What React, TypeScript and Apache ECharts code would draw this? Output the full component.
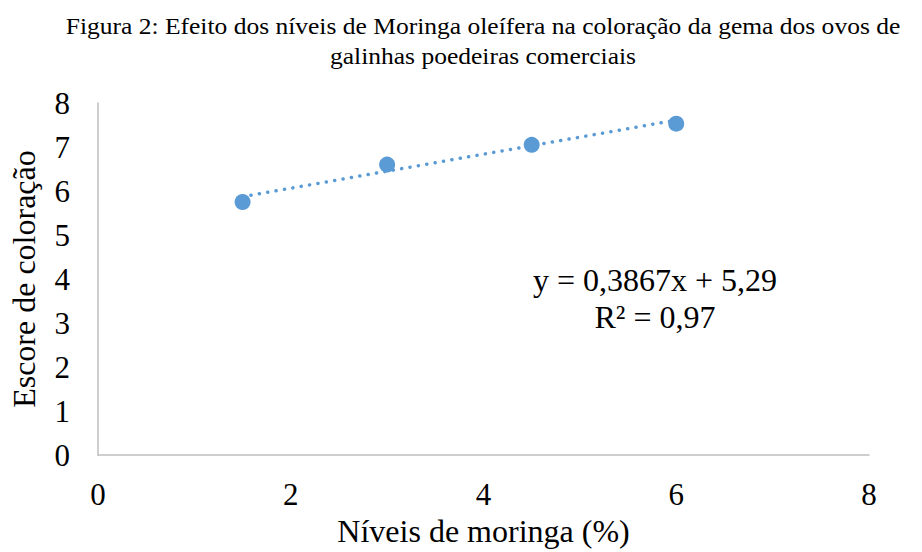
import React, { useEffect, useRef } from "react";
import * as echarts from "echarts";

const titleLines = [
  "Figura 2: Efeito dos níveis de Moringa oleífera na coloração da gema dos ovos de",
  "galinhas poedeiras comerciais",
];
const xAxisName = "Níveis de moringa (%)";
const yAxisName = "Escore de coloração";
const xLevels = [1.5, 3, 4.5, 6];
const scores = [5.75, 6.6, 7.05, 7.53];
const trendCoef = [0.3867, 5.29]; // slope, intercept
const equationLines = ["y = 0,3867x + 5,29", "R² = 0,97"];

const FONT = "Liberation Serif";
const BLUE = "#5b9bd5";

export default function App() {
  const ref = useRef<HTMLDivElement>(null);
  useEffect(() => {
    if (!ref.current) return;
    const chart = echarts.init(ref.current, null, { renderer: "svg" });
    const tx = [xLevels[0], xLevels[xLevels.length - 1]];
    const trend = tx.map((x) => [x, trendCoef[0] * x + trendCoef[1]]);
    chart.setOption({
      animation: false,
      backgroundColor: "#ffffff",
      textStyle: { fontFamily: FONT },
      grid: { left: 93, right: 53, top: 103, bottom: 79, containLabel: false },
      xAxis: {
        type: "value",
        min: 0,
        max: 8,
        interval: 2,
        name: xAxisName,
        nameLocation: "middle",
        nameGap: 47,
        nameTextStyle: { fontFamily: FONT, fontSize: 32, color: "#000" },
        axisLine: { show: true, lineStyle: { color: "#bfbfbf", width: 1.5 } },
        axisTick: { show: false },
        splitLine: { show: false },
        axisLabel: { fontFamily: FONT, fontSize: 31, color: "#000", margin: 24 },
      },
      yAxis: {
        type: "value",
        min: 0,
        max: 8,
        interval: 1,
        name: yAxisName,
        nameLocation: "middle",
        nameGap: 58,
        nameTextStyle: { fontFamily: FONT, fontSize: 32, color: "#000" },
        axisLine: { show: true, lineStyle: { color: "#bfbfbf", width: 1.5 } },
        axisTick: { show: false },
        splitLine: { show: false },
        axisLabel: { fontFamily: FONT, fontSize: 31, color: "#000", margin: 28 },
      },
      series: [
        {
          type: "line",
          data: trend,
          symbol: "none",
          lineStyle: { color: BLUE, width: 3.5, type: [0.1, 8.4], cap: "round" },
          z: 2,
        },
        {
          type: "scatter",
          data: xLevels.map((x, i) => [x, scores[i]]),
          symbolSize: 16,
          itemStyle: { color: BLUE, opacity: 1 },
          z: 3,
        },
      ],
      graphic: [
        {
          type: "text",
          x: 483,
          y: 11,
          scaleX: 1.11,
          style: {
            text: titleLines.join("\n"),
            fontFamily: FONT,
            fontSize: 23,
            lineHeight: 30,
            fill: "#000",
            align: "center",
            verticalAlign: "top",
          },
        },
        {
          type: "text",
          x: 655,
          y: 261,
          style: {
            text: equationLines.join("\n"),
            fontFamily: FONT,
            fontSize: 32,
            lineHeight: 37.6,
            fill: "#000",
            align: "center",
            verticalAlign: "top",
          },
        },
      ],
    });
    return () => chart.dispose();
  }, []);
  return (
    <div
      ref={ref}
      style={{ position: "fixed", left: 0, top: 0, width: 922, height: 552 }}
    />
  );
}
